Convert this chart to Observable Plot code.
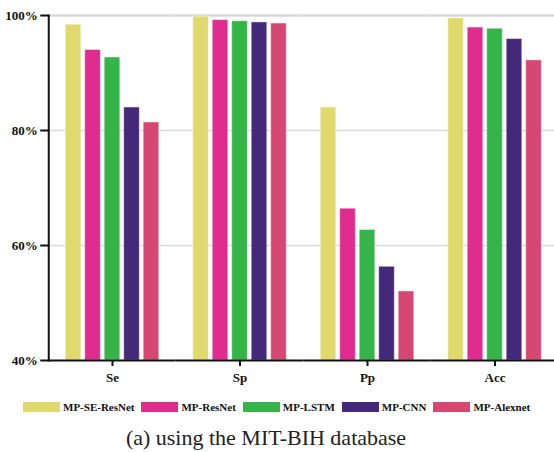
<!DOCTYPE html>
<html>
<head>
<meta charset="utf-8">
<script src="https://cdn.jsdelivr.net/npm/d3@7"></script>
<script src="https://cdn.jsdelivr.net/npm/@observablehq/plot@0.6"></script>
<style>
  html, body { margin: 0; padding: 0; background: #fff; overflow: hidden; }
  #wrap { position: relative; width: 554px; height: 452px; overflow: hidden; font-family: "Liberation Serif", "Times New Roman", serif; }
  #chart { position: absolute; left: 0; top: 0; width: 560px; }
  #chart svg { max-width: none !important; width: 560px !important; height: 392px !important; }
  #legend { position: absolute; left: 23px; top: 401px; height: 12px; display: flex; align-items: center; }
  .item { display: flex; align-items: center; margin-right: 7px; }
  .swatch { width: 37px; height: 10.5px; margin-right: 3px; }
  .label { font-size: 11px; font-weight: bold; color: #111; white-space: nowrap; }
  #caption { position: absolute; left: 0; top: 425.5px; width: 532px; text-align: center; font-size: 22px; line-height: 24px; color: #222; }
</style>
</head>
<body>
<div id="wrap">
  <div id="chart"></div>
  <div id="legend"></div>
  <div id="caption">(a) using the MIT-BIH database</div>
</div>
<script>
// Evaluation metrics (groups) and the compared models (bars in each group)
const metrics = ["Se", "Sp", "Pp", "Acc"];
const models = ["MP-SE-ResNet", "MP-ResNet", "MP-LSTM", "MP-CNN", "MP-Alexnet"];
const modelColors = ["#e0da6e", "#e02c8e", "#35b44a", "#44287a", "#d64873"];

// Scores (%) per metric, in model order
const seValues = [98.4, 94.0, 92.7, 84.0, 81.4];
const spValues = [99.8, 99.2, 99.0, 98.8, 98.6];
const ppValues = [84.0, 66.4, 62.7, 56.3, 52.0];
const accValues = [99.5, 97.9, 97.7, 95.9, 92.2];

const yTicks = [40, 60, 80, 100];
const gridTicks = [60, 80];

const valuesByMetric = [seValues, spValues, ppValues, accValues];
const rows = metrics.flatMap((metric, i) =>
  models.map((model, j) => ({metric, model, value: valuesByMetric[i][j]}))
);

const chart = Plot.plot({
  width: 560,
  height: 392,
  marginTop: 15,
  marginBottom: 32,
  marginLeft: 48.25,
  marginRight: 1.75,
  style: {fontFamily: "'Liberation Serif', 'Times New Roman', serif", fontSize: "13px", fontWeight: "bold", color: "#111", background: "transparent"},
  fx: {domain: metrics, padding: 0, round: false, label: null},
  x: {domain: models, paddingInner: 0.2, paddingOuter: 0.87, round: false, axis: null},
  y: {domain: [40, 100], axis: null},
  color: {domain: models, range: modelColors},
  marks: [
    Plot.ruleY(gridTicks, {stroke: "#dadada", strokeWidth: 1.5}),
    Plot.ruleY([100], {stroke: "#d8d8d8", strokeWidth: 2.5}),
    Plot.barY(rows, {fx: "metric", x: "model", y1: 40, y2: "value", fill: "model", stroke: "white", strokeOpacity: 0.45, strokeWidth: 1}),
    Plot.ruleY([40], {stroke: "#111", strokeWidth: 2}),
    Plot.frame({anchor: "left", facetAnchor: "left", stroke: "#111", strokeWidth: 2}),
    Plot.axisY(yTicks, {anchor: "left", tickSize: 8, tickPadding: 3, strokeWidth: 2, stroke: "#111", tickFormat: d => d + "%", label: null}),
    Plot.axisFx({anchor: "bottom", tickSize: 6, tickPadding: 6, strokeWidth: 2, stroke: "#111", label: null})
  ]
});
document.getElementById("chart").appendChild(chart);

// Legend: one swatch and name per model
const legend = d3.select("#legend");
models.forEach((model, i) => {
  const item = legend.append("div").attr("class", "item");
  item.append("div").attr("class", "swatch").style("background", modelColors[i]);
  item.append("span").attr("class", "label").text(model);
});
</script>
</body>
</html>
